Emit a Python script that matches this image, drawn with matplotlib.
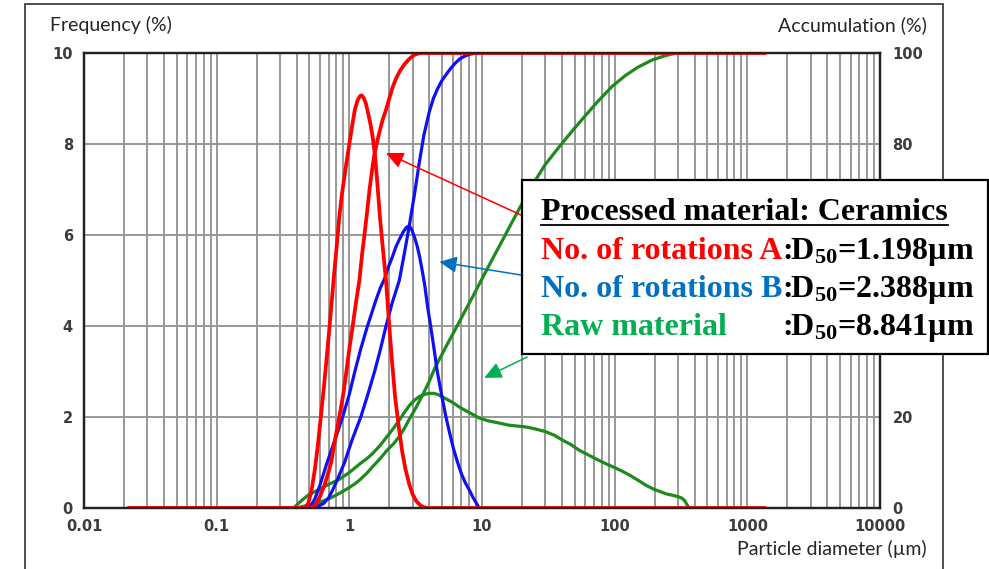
import matplotlib.pyplot as plt
from matplotlib.patches import Rectangle
from matplotlib.lines import Line2D
from matplotlib.ticker import LogLocator, NullFormatter
import numpy as np

plt.rcParams['mathtext.fontset'] = 'custom'
plt.rcParams['mathtext.rm'] = 'Liberation Serif:bold'
plt.rcParams['mathtext.bf'] = 'Liberation Serif:bold'
plt.rcParams['mathtext.it'] = 'Liberation Serif:bold:italic'

# particle diameter (um) -> frequency (%) and accumulation (%)
a_freq_d = [0.022, 0.46, 0.49, 0.52, 0.55, 0.58, 0.61, 0.64, 0.67, 0.71, 0.76, 0.8, 0.84, 0.88, 0.93,
            1.0, 1.05, 1.1, 1.15, 1.2, 1.24, 1.28, 1.33, 1.38, 1.44, 1.5, 1.56, 1.62, 1.7, 1.79,
            1.89, 2.0, 2.1, 2.22, 2.38, 2.5, 2.65, 2.83, 3.0, 3.2, 3.45, 3.8, 1350]
a_freq = [0, 0, 0.1, 0.4, 0.85, 1.4, 2.0, 2.6, 3.2, 4.0, 5.0, 5.7, 6.4, 6.9, 7.4,
          8.0, 8.4, 8.75, 8.95, 9.05, 9.07, 9.02, 8.9, 8.7, 8.45, 8.15, 7.75, 7.2, 6.4, 5.7,
          5.0, 4.0, 3.2, 2.4, 1.7, 1.25, 0.85, 0.52, 0.3, 0.15, 0.05, 0, 0]
a_cum_d = [0.022, 0.5, 0.53, 0.56, 0.6, 0.65, 0.69, 0.73, 0.78, 0.84, 0.9, 0.95, 1.0, 1.06, 1.12,
           1.19, 1.25, 1.3, 1.36, 1.42, 1.48, 1.54, 1.62, 1.7, 1.79, 1.89, 2.0, 2.12, 2.25, 2.4,
           2.6, 2.83, 3.05, 3.3, 3.5, 1350]
a_cum = [0, 0, 0.3, 0.8, 2.5, 5, 7.5, 10, 15, 20, 25, 30, 35, 40, 45,
         50, 56, 60, 65, 70, 74, 77.5, 80.5, 83, 85.5, 87.5, 90, 92.5, 94.4, 96,
         97.5, 98.7, 99.5, 99.9, 100, 100]

b_freq_d = [0.5, 0.55, 0.6, 0.68, 0.78, 0.89, 1.0, 1.1, 1.22, 1.37, 1.5, 1.6, 1.72, 1.85, 1.97, 2.1,
            2.25, 2.4, 2.55, 2.7, 2.83, 2.95, 3.1, 3.25, 3.4, 3.55, 3.7, 3.9, 4.1, 4.35, 4.6, 4.95,
            5.35, 5.7, 6.1, 6.55, 7.0, 7.5, 8.0, 8.6, 9.1, 9.5]
b_freq = [0, 0.2, 0.5, 1.0, 1.5, 2.0, 2.5, 3.0, 3.5, 4.0, 4.35, 4.6, 4.85, 5.05, 5.3, 5.5,
          5.75, 5.92, 6.07, 6.17, 6.2, 6.12, 5.95, 5.75, 5.5, 5.2, 4.9, 4.4, 4.0, 3.5, 3.0, 2.5,
          2.0, 1.65, 1.3, 1.0, 0.75, 0.55, 0.4, 0.22, 0.1, 0]
b_cum_d = [0.52, 0.58, 0.64, 0.7, 0.75, 0.82, 0.92, 1.05, 1.22, 1.38, 1.55, 1.72, 1.89, 2.1, 2.38,
           2.6, 2.83, 3.1, 3.37, 3.65, 4.0, 4.3, 4.6, 5.0, 5.35, 5.8, 6.3, 6.8, 7.4, 8.0, 9.0]
b_cum = [0, 0.4, 1, 2.3, 4, 6.5, 10, 15, 20, 25, 30, 35, 40, 45, 50,
         56, 62, 69, 76, 82, 87, 90, 92, 94, 95.2, 96.6, 97.8, 98.7, 99.3, 99.7, 100]

g_freq_d = [0.38, 0.4, 0.42, 0.46, 0.5, 0.55, 0.6, 0.7, 0.84, 1.0, 1.2, 1.35, 1.5, 1.7, 1.9, 2.15,
            2.38, 2.6, 2.83, 3.1, 3.37, 3.7, 4.0, 4.3, 4.6, 5.35, 6.0, 6.5, 7.2, 8.0, 9.5, 11,
            12.8, 16, 21.5, 25, 30, 35, 40, 47, 54, 62, 70, 82, 96, 112, 130, 150, 172, 195,
            220, 245, 273, 300, 320, 335, 350, 365]
g_freq = [0, 0.06, 0.12, 0.22, 0.3, 0.36, 0.42, 0.52, 0.63, 0.78, 0.97, 1.08, 1.2, 1.37, 1.55, 1.75,
          1.93, 2.1, 2.25, 2.37, 2.45, 2.5, 2.52, 2.52, 2.5, 2.4, 2.32, 2.25, 2.17, 2.1, 1.98, 1.92,
          1.88, 1.82, 1.78, 1.74, 1.68, 1.6, 1.5, 1.39, 1.27, 1.18, 1.1, 1.0, 0.91, 0.82, 0.72, 0.61, 0.5, 0.42,
          0.36, 0.31, 0.28, 0.25, 0.22, 0.17, 0.08, 0]
g_cum_d = [0.4, 0.45, 0.5, 0.6, 0.7, 0.84, 1.0, 1.1, 1.2, 1.35, 1.5, 1.7, 1.9, 2.15, 2.38, 2.6,
           2.83, 3.2, 3.56, 4.0, 4.4, 5.0, 5.5, 6.2, 7.0, 7.7, 8.5, 9.3, 10.1, 11.3, 12.7, 14.3,
           16, 19.7, 24, 30, 38, 48, 60, 76, 96, 121, 150, 193, 240, 272, 295]
g_cum = [0, 0.35, 0.7, 1.3, 2.0, 3.2, 4.5, 5.3, 6.2, 7.6, 9.1, 10.8, 12.5, 14.1, 15.7, 17.5,
         19.5, 22.2, 24.8, 27.8, 30.7, 33.8, 36.1, 38.9, 41.8, 44.1, 46.4, 48.6, 50.6, 53.3, 56.1, 58.9,
         61.6, 66.5, 71, 75.5, 79.3, 82.9, 86.2, 89.6, 92.7, 95.1, 96.9, 98.5, 99.4, 99.8, 100]

x_ticks = [0.01, 0.1, 1, 10, 100, 1000, 10000]
x_labels = ['0.01', '0.1', '1', '10', '100', '1000', '10000']
freq_ticks = [0, 2, 4, 6, 8, 10]
cum_ticks = [0, 20, 40, 60, 80, 100]
cum_labels = ['0', '20', '', '', '80', '100']  # 40 and 60 sit behind the legend box

legend_title = 'Processed material: Ceramics'
legend_names = ['No. of rotations A', 'No. of rotations B', 'Raw material']
legend_d50 = ['1.198', '2.388', '8.841']
legend_colors = ['#FF0000', '#0070C0', '#00B050']

RED, BLUE, GREEN = '#FF0000', '#1010F0', '#1E8A1E'
tick_col = '#3c3c3c'

W, H = 989, 569
fig = plt.figure(figsize=(W / 100, H / 100), dpi=100)
ax = fig.add_axes([84 / W, 1 - 508 / H, (880 - 84) / W, (508 - 53) / H])
ax2 = ax.twinx()

ax.set_xscale('log')
ax.set_xlim(0.01, 10000)
ax.set_ylim(0, 10)
ax2.set_ylim(0, 100)

ax.xaxis.set_major_locator(LogLocator(base=10, numticks=20))
ax.xaxis.set_minor_locator(LogLocator(base=10, subs=np.arange(2, 10), numticks=200))
ax.xaxis.set_minor_formatter(NullFormatter())
ax.set_xticks(x_ticks, x_labels)
ax.set_yticks(freq_ticks)
ax2.set_yticks(cum_ticks, cum_labels)

ax.grid(which='both', axis='x', color='#999999', lw=1.4)
ax.grid(which='major', axis='y', color='#999999', lw=1.4)
ax.set_axisbelow(True)

tick_font = dict(family='DejaVu Sans', weight='bold', size=10.5)
ax.tick_params(axis='both', which='both', length=0, colors=tick_col)
ax.tick_params(axis='x', pad=8)
ax.tick_params(axis='y', pad=8)
ax2.tick_params(axis='y', length=0, pad=9, colors=tick_col)
for lab in ax.get_xticklabels() + ax.get_yticklabels() + ax2.get_yticklabels():
    lab.set_fontproperties(tick_font)
    lab.set_color(tick_col)

for a in (ax, ax2):
    for s in a.spines.values():
        s.set_linewidth(1.6)
        s.set_color('#222222')

lw = 2.3
ct = ax2.transData
ax.plot(g_freq_d, g_freq, color=GREEN, lw=lw, zorder=3)
ax.plot(g_cum_d, g_cum, color=GREEN, lw=lw, zorder=3, transform=ct)
ax.plot(b_freq_d, b_freq, color=BLUE, lw=lw, zorder=4)
ax.plot(b_cum_d, b_cum, color=BLUE, lw=lw, zorder=4, transform=ct)
ax.plot(a_freq_d, a_freq, color=RED, lw=lw + 0.4, zorder=5)
ax.plot(a_cum_d, a_cum, color=RED, lw=lw + 0.4, zorder=5, transform=ct)

# axis titles
lab_font = dict(family='Lato', size=14, color='#262626')
fig.text(50 / W, 1 - 31 / H, 'Frequency (%)', ha='left', va='baseline', **lab_font)
fig.text(927 / W, 1 - 31 / H, 'Accumulation (%)', ha='right', va='baseline', **lab_font)
fig.text(927 / W, 1 - 555 / H, 'Particle diameter (µm)', ha='right', va='baseline', **lab_font)

# outer frame
fig.add_artist(Rectangle((25 / W, -0.05), (943 - 25) / W, 1.05 - 4 / H, transform=fig.transFigure,
                         fill=False, edgecolor='#404040', lw=1.3, zorder=1))

# arrows pointing to the curves
arrow_tips = [(1.89, 7.8), (4.77, 5.41), (10.4, 2.86)]
arrow_tails = [(521, 215), (521, 275), (527, 357)]
for tip, tail, c in zip(arrow_tips, arrow_tails, legend_colors):
    ax.annotate('', xy=tip, xycoords='data', xytext=(tail[0], H - tail[1]), textcoords='figure pixels',
                arrowprops=dict(arrowstyle='-|>,head_length=0.7,head_width=0.33', color=c, lw=1.1,
                                mutation_scale=15, shrinkA=0, shrinkB=0),
                annotation_clip=False, zorder=6)

# legend box
fig.add_artist(Rectangle((522 / W, 1 - 354 / H), (988 - 522) / W, (354 - 180) / H,
                         transform=fig.transFigure, facecolor='white', edgecolor='black', lw=1.6, zorder=3))
leg_font = dict(family='Liberation Serif', weight='bold', size=23)
t = fig.text(541 / W, 1 - 220 / H, legend_title, ha='left', va='baseline', color='black', zorder=4, **leg_font)
fig.canvas.draw()
bb = t.get_window_extent()
fig.add_artist(Line2D([bb.x0, bb.x1], [H - 224.5, H - 224.5], transform=None, color='black', lw=1.3, zorder=4))
for i, (name, d50, c) in enumerate(zip(legend_names, legend_d50, legend_colors)):
    yb = 1 - (259 + 38 * i) / H
    fig.text(541 / W, yb, name, ha='left', va='baseline', color=c, zorder=4, **leg_font)
    fig.text(782 / W, yb, r':D$_{\mathbf{50}}$=' + d50 + 'µm', ha='left', va='baseline', color='black',
             zorder=4, **leg_font)

fig.savefig('out.png', dpi=100)
